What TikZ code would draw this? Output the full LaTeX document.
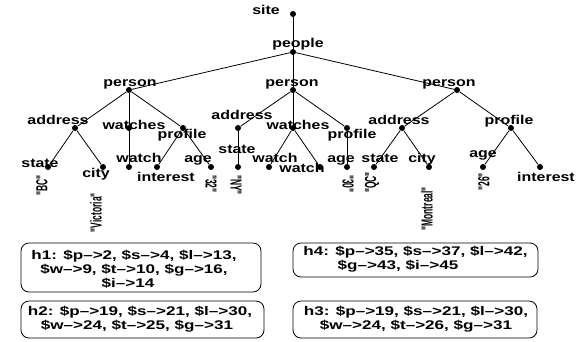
\documentclass[tikz,border=0pt]{standalone}
\usepackage{fontspec}
\newfontfamily\labfont[FakeStretch=1.25]{Liberation Sans}
\newfontfamily\boxfont[FakeStretch=1.36]{Liberation Sans}
\newfontfamily\rotfont[FakeStretch=0.53]{Liberation Sans}
\begin{document}
\begin{tikzpicture}[x=1bp,y=-1bp,
  dot/.style={circle,fill=black,inner sep=0pt,minimum size=6bp},
  lab/.style={font=\labfont\bfseries\fontsize{12.8}{14}\selectfont,inner sep=0pt,anchor=base},
  val/.style={font=\rotfont\bfseries\fontsize{16}{18}\selectfont,inner sep=0pt,rotate=90,anchor=east},
  valr/.style={font=\rotfont\bfseries\fontsize{16}{18}\selectfont,inner sep=0pt,rotate=-90,anchor=west},
  box/.style={draw,rounded corners=8bp,line width=0.8bp,inner sep=0pt},
  boxtext/.style={font=\boxfont\bfseries\fontsize{12.6}{14}\selectfont,align=center,inner sep=0pt},
  edge/.style={line width=0.8bp}]
\useasboundingbox (0,0) rectangle (576,341);
% dots
\node[dot] (site) at (293,14) {};
\node[dot] (people) at (293,52) {};
\node[dot] (p1) at (129,90) {};
\node[dot] (p2) at (293,90) {};
\node[dot] (p3) at (457,90) {};
\node[dot] (a1) at (75,128) {};
\node[dot] (w1) at (129,128) {};
\node[dot] (pr1) at (183,128) {};
\node[dot] (s1) at (48,167) {};
\node[dot] (c1) at (103,167) {};
\node[dot] (wt1) at (129,167) {};
\node[dot] (i1) at (157,167) {};
\node[dot] (ag1) at (211,167) {};
\node[dot] (a2) at (238,128) {};
\node[dot] (w2) at (293,128) {};
\node[dot] (pr2) at (347,128) {};
\node[dot] (s2) at (238,167) {};
\node[dot] (wt2a) at (269,167) {};
\node[dot] (wt2b) at (320,167) {};
\node[dot] (ag2) at (347,167) {};
\node[dot] (a3) at (402,128) {};
\node[dot] (pr3) at (511,128) {};
\node[dot] (s3) at (374,167) {};
\node[dot] (c3) at (429,167) {};
\node[dot] (ag3) at (483,167) {};
\node[dot] (i3) at (540,167) {};
% edges
\draw[edge] (site) -- (people);
\draw[edge] (people) -- (p1);
\draw[edge] (people) -- (p2);
\draw[edge] (people) -- (p3);
\draw[edge] (p1) -- (a1);
\draw[edge] (p1) -- (w1);
\draw[edge] (p1) -- (pr1);
\draw[edge] (a1) -- (s1);
\draw[edge] (a1) -- (c1);
\draw[edge] (w1) -- (wt1);
\draw[edge] (pr1) -- (i1);
\draw[edge] (pr1) -- (ag1);
\draw[edge] (p2) -- (a2);
\draw[edge] (p2) -- (w2);
\draw[edge] (p2) -- (pr2);
\draw[edge] (a2) -- (s2);
\draw[edge] (w2) -- (wt2a);
\draw[edge] (w2) -- (wt2b);
\draw[edge] (pr2) -- (ag2);
\draw[edge] (p3) -- (a3);
\draw[edge] (p3) -- (pr3);
\draw[edge] (a3) -- (s3);
\draw[edge] (a3) -- (c3);
\draw[edge] (pr3) -- (ag3);
\draw[edge] (pr3) -- (i3);
% labels
\node[lab] (lsite) at (266,14) {site};
\node[lab] (lpeople) at (298,47) {people};
\node[lab] (lp1) at (130,86) {person};
\node[lab] (lp2) at (292,86) {person};
\node[lab] (lp3) at (449,86) {person};
\node[lab] (la1) at (58,124) {address};
\node[lab] (lw1) at (134,129) {watches};
\node[lab] (lpr1) at (182,138) {profile};
\node[lab] (ls1) at (40,167) {state};
\node[lab] (lc1) at (96,177) {city};
\node[lab] (lwt1) at (139,162) {watch};
\node[lab] (li1) at (166,181) {interest};
\node[lab] (lag1) at (198,162) {age};
\node[lab] (la2) at (242,119) {address};
\node[lab] (lw2) at (298,129) {watches};
\node[lab] (lpr2) at (352,138) {profile};
\node[lab] (ls2) at (237,153) {state};
\node[lab] (lwt2a) at (275,162) {watch};
\node[lab] (lwt2b) at (302,172) {watch};
\node[lab] (lag2) at (341,162) {age};
\node[lab] (la3) at (399,124) {address};
\node[lab] (lpr3) at (509,124) {profile};
\node[lab] (ls3) at (380,162) {state};
\node[lab] (lc3) at (422,162) {city};
\node[lab] (lag3) at (483,157) {age};
\node[lab] (li3) at (546,181) {interest};
% values
\node[val] (vbc) at (42,175) {"BC"};
\node[val] (vvic) at (96,193) {"Victoria"};
\node[valr] (v32) at (211,175) {"32"};
\node[valr] (vny) at (236,175) {"NY"};
\node[valr] (v30) at (348,175) {"30"};
\node[val] (vqc) at (372,172) {"QC"};
\node[val] (vmon) at (427,187) {"Montreal"};
\node[val] (v26) at (484,173) {"26"};
% boxes
\node[box,minimum width=240bp,minimum height=49bp] (b1) at (141,267.5) {};
\node[boxtext] (t1) at (134,269) {h1: \$p–>2, \$s–>4, \$l–>13,\\ \$w–>9, \$t–>10, \$g–>16,\\ \$i–>14\hspace*{12bp}};
\node[box,minimum width=243bp,minimum height=37bp] (b2) at (142.5,319.5) {};
\node[boxtext] (t2) at (140,319.5) {h2: \$p–>19, \$s–>21, \$l–>30,\\ \$w–>24, \$t–>25, \$g–>31\hspace*{6bp}};
\node[box,minimum width=245bp,minimum height=34bp] (b4) at (415.5,260) {};
\node[boxtext] (t4) at (415.5,259) {h4: \$p–>35, \$s–>37, \$l–>42,\\ \$g–>43, \$i–>45\hspace*{35bp}};
\node[box,minimum width=244bp,minimum height=37bp] (b3) at (415,319.5) {};
\node[boxtext] (t3) at (416,319.5) {h3: \$p–>19, \$s–>21, \$l–>30,\\ \$w–>24, \$t–>26, \$g–>31};
\end{tikzpicture}
\end{document}
